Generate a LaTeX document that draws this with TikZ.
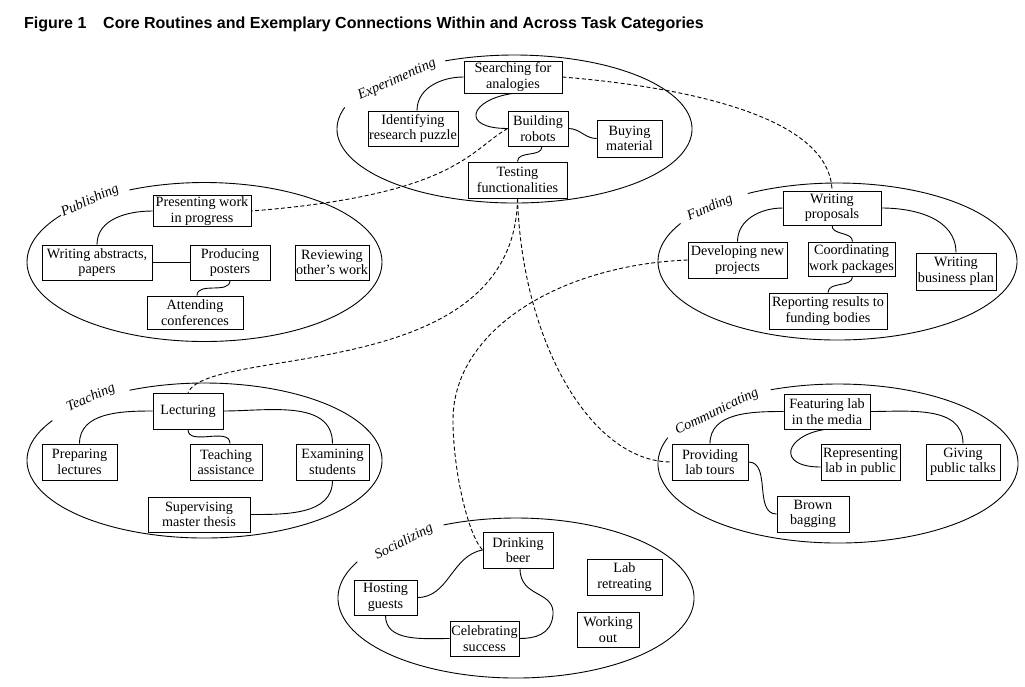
\documentclass[tikz,border=0pt]{standalone}
\usepackage{fontspec}
\setmainfont{Liberation Serif}
\setsansfont{Liberation Sans}
\usetikzlibrary{calc}
\begin{document}
\begin{tikzpicture}[x=1pt,y=1pt,
  task/.style={draw, line width=0.85pt, align=center, inner sep=1pt,
    font=\fontsize{14.2}{15.5}\selectfont},
  cat/.style={font=\fontsize{14.2}{16}\selectfont\itshape, rotate=24, inner sep=0pt},
  oval/.style={line width=0.9pt},
  link/.style={line width=0.9pt},
  cross/.style={line width=0.9pt, dash pattern=on 4pt off 2.5pt},
  ttl/.style={anchor=base west, inner sep=0pt, font=\fontsize{16}{19}\selectfont\sffamily\bfseries}]
\useasboundingbox (0,0) rectangle (1025,-686);

% title
\node[ttl] (fig) at (24,-28) {Figure 1};
\node[ttl] (cap) at (103,-28) {Core Routines and Exemplary Connections Within and Across Task Categories};

% ovals
\draw[oval] (514.5,-129) ++(163:177.5 and 74) arc[start angle=163,end angle=473,x radius=177.5,y radius=74];
\draw[oval] (204.5,-262) ++(144:177.5 and 79.5) arc[start angle=144,end angle=475,x radius=177.5,y radius=79.5];
\draw[oval] (837.5,-261.5) ++(151:179.5 and 78.5) arc[start angle=151,end angle=480,x radius=179.5,y radius=78.5];
\draw[oval] (204.5,-460.5) ++(149:177.5 and 77.5) arc[start angle=149,end angle=475,x radius=177.5,y radius=77.5];
\draw[oval] (838,-463.5) ++(161:180 and 79.5) arc[start angle=161,end angle=472,x radius=180,y radius=79.5];
\draw[oval] (516,-598) ++(153:178 and 80) arc[start angle=153,end angle=474,x radius=178,y radius=80];

% category labels
\node[cat] (lexp) at (397,-80) {Experimenting};
\node[cat] (lpub) at (90,-201) {Publishing};
\node[cat] (lfun) at (710,-208) {Funding};
\node[cat] (ltea) at (91,-398) {Teaching};
\node[cat, rotate=2] (lcom) at (717,-412) {Communicating};
\node[cat, rotate=3] (lsoc) at (404,-542) {Socializing};

% Experimenting
\node[task, minimum width=98, minimum height=32] (sfa) at (513,-77) {Searching for\\analogies};
\node[task, minimum width=90, minimum height=35] (irp) at (413,-128.5) {Identifying\\research puzzle};
\node[task, minimum width=60, minimum height=35] (bro) at (538,-128.5) {Building\\robots};
\node[task, minimum width=65, minimum height=37] (bma) at (629.5,-138.5) {Buying\\material};
\node[task, minimum width=99, minimum height=36] (tfu) at (517.5,-180) {Testing\\functionalities};

% Publishing
\node[task, minimum width=98, minimum height=30] (pwp) at (202,-211) {Presenting work\\in progress};
\node[task, minimum width=110, minimum height=35] (wap) at (97,-262.5) {Writing abstracts,\\papers};
\node[task, minimum width=80, minimum height=35] (ppo) at (230,-262.5) {Producing\\posters};
\node[task, minimum width=72, minimum height=35] (row) at (332,-262.5) {Reviewing\\other's work};
\node[task, minimum width=96, minimum height=33] (aco) at (195,-312.5) {Attending\\conferences};

% Funding
\node[task, minimum width=98, minimum height=34] (wpr) at (832,-208) {Writing\\proposals};
\node[task, minimum width=99, minimum height=36] (dnp) at (737.5,-260) {Developing new\\projects};
\node[task, minimum width=87, minimum height=34] (cwp) at (851.5,-259) {Coordinating\\work packages};
\node[task, minimum width=80, minimum height=37] (wbp) at (956,-271.5) {Writing\\business plan};
\node[task, minimum width=118, minimum height=36] (rrf) at (828,-311) {Reporting results to\\funding bodies};

% Teaching
\node[task, minimum width=70, minimum height=36] (lec) at (188,-411) {Lecturing};
\node[task, minimum width=75, minimum height=36] (ple) at (79.5,-462) {Preparing\\lectures};
\node[task, minimum width=72, minimum height=36] (tas) at (226,-462) {Teaching\\assistance};
\node[task, minimum width=73, minimum height=36] (exs) at (332.5,-462) {Examining\\students};
\node[task, minimum width=102, minimum height=35] (smt) at (199,-514.5) {Supervising\\master thesis};

% Communicating
\node[task, minimum width=86, minimum height=35] (flm) at (827,-411.5) {Featuring lab\\in the media};
\node[task, minimum width=76, minimum height=36] (plt) at (710,-462) {Providing\\lab tours};
\node[task, minimum width=79, minimum height=36] (rlp) at (860.5,-462) {Representing\\lab in public};
\node[task, minimum width=74, minimum height=36] (gpt) at (963,-462) {Giving\\public talks};
\node[task, minimum width=72, minimum height=36] (bba) at (813,-514) {Brown\\bagging};

% Socializing
\node[task, minimum width=70, minimum height=36] (dbe) at (518,-550) {Drinking\\beer};
\node[task, minimum width=63, minimum height=35] (hgu) at (385.5,-597.5) {Hosting\\guests};
\node[task, minimum width=69, minimum height=35] (csu) at (484.5,-638.5) {Celebrating\\success};
\node[task, minimum width=75, minimum height=36] (lre) at (624.5,-577) {Lab\\retreating};
\node[task, minimum width=62, minimum height=35] (wou) at (608,-629.5) {Working\\out};

% links: Experimenting
\draw[link] (sfa.west) to[out=180,in=90] ($(irp.north)+(4,0)$);
\draw[link] (sfa.south) .. controls +(-43,-6) and +(-48,0) .. (bro.west);
\draw[link] (bro.east) to[out=0,in=180] (bma.west);
\draw[link] ($(bro.south)+(4,0)$) to[out=-90,in=90] (tfu.north);
% Publishing
\draw[link] (pwp.west) to[out=180,in=90] (wap.north);
\draw[link] (wap.east) -- (ppo.west);
\draw[link] (ppo.south) to[out=-90,in=90] ($(aco.north)+(2,0)$);
% Funding
\draw[link] (wpr.west) to[out=180,in=90] (dnp.north);
\draw[link] (wpr.east) to[out=0,in=90] (wbp.north);
\draw[link] (wpr.south) to[out=-90,in=90] ($(cwp.north)+(1,0)$);
\draw[link] ($(cwp.south)+(1,0)$) to[out=-90,in=90] (rrf.north);
% Teaching
\draw[link] (lec.west) to[out=180,in=90] (ple.north);
\draw[link] (lec.east) to[out=0,in=90] (exs.north);
\draw[link] (lec.south) to[out=-90,in=90] ($(tas.north)+(4,0)$);
\draw[link] (exs.south) to[out=-90,in=0] (smt.east);
% Communicating
\draw[link] (flm.west) to[out=180,in=90] (plt.north);
\draw[link] (flm.east) to[out=0,in=90] (gpt.north);
\draw[link] ($(flm.south)+(-2,0)$) .. controls +(-40,-6) and +(-45,0) .. ($(rlp.west)+(0,-5)$);
\draw[link] (plt.east) to[out=0,in=180] (bba.west);
% Socializing
\draw[link] (dbe.west) to[out=190,in=0] (hgu.east);
\draw[link] ($(dbe.south)+(2,0)$) .. controls +(0,-30) and +(2,25) .. (553,-615) .. controls +(-2,-20) and +(15,0) .. (csu.east);
\draw[link] (hgu.south) to[out=-90,in=180] (csu.west);

% cross-category connections
\draw[cross] (sfa.east) .. controls (660,-85) and (830,-110) .. (wpr.north);
\draw[cross] (bro.west) .. controls (470,-150) and (455,-195) .. (pwp.east);
\draw[cross] (tfu.south) .. controls (515,-385) and (210,-345) .. (lec.north);
\draw[cross] (tfu.south) .. controls (522,-340) and (590,-462) .. (plt.west);
\draw[cross] (dnp.west) .. controls (560,-265) and (453,-330) .. (453,-420) .. controls (453,-470) and (468,-535) .. (dbe.west);
\end{tikzpicture}
\end{document}
